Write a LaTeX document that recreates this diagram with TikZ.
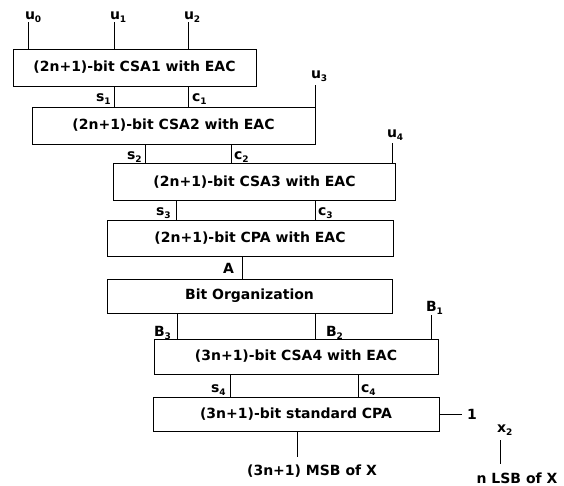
\documentclass[tikz,border=0pt]{standalone}
\usepackage{fontspec}
\setmainfont{DejaVu Sans}[BoldFont={DejaVu Sans Bold}]
\newcommand{\lowr}[1]{\raisebox{-3pt}{\fontsize{9}{9}\selectfont #1}}
\begin{document}
\begin{tikzpicture}[x=1pt,y=-1pt,line width=1pt,
  blk/.style={draw,inner sep=0pt,outer sep=0pt,font=\fontsize{14}{16}\selectfont\bfseries},
  lbl/.style={inner sep=0pt,outer sep=0pt,font=\fontsize{14}{16}\selectfont\bfseries}]
\useasboundingbox (0,0) rectangle (564,485);
% blocks
\node[blk,minimum width=243pt,minimum height=37pt] (csa1) at (134.5,67.5) {(2n+1)-bit CSA1 with EAC};
\node[blk,minimum width=283pt,minimum height=37pt] (csa2) at (173.5,125.5) {(2n+1)-bit CSA2 with EAC};
\node[blk,minimum width=282pt,minimum height=37pt] (csa3) at (254.5,182) {(2n+1)-bit CSA3 with EAC};
\node[blk,minimum width=286pt,minimum height=36pt] (cpa) at (250,238) {(2n+1)-bit CPA with EAC};
\node[blk,minimum width=285pt,minimum height=34pt] (bo) at (249.5,296) {Bit Organization};
\node[blk,minimum width=284pt,minimum height=35pt] (csa4) at (296,356.5) {(3n+1)-bit CSA4 with EAC};
\node[blk,minimum width=286pt,minimum height=34pt] (std) at (296,414) {(3n+1)-bit standard CPA};
% x positions / free ends
\coordinate (u0) at (28,22);
\coordinate (u1) at (114,22);
\coordinate (u2) at (188,22);
\coordinate (u3) at (315,85);
\coordinate (u4) at (392,143);
\coordinate (b1) at (431,315);
\coordinate (s1x) at (114,0);
\coordinate (c1x) at (188,0);
\coordinate (s2x) at (145,0);
\coordinate (c2x) at (231,0);
\coordinate (s3x) at (176,0);
\coordinate (c3x) at (315,0);
\coordinate (ax) at (242,0);
\coordinate (b3x) at (177,0);
\coordinate (b2x) at (315,0);
\coordinate (s4x) at (230,0);
\coordinate (c4x) at (358,0);
\coordinate (one) at (462,414);
\coordinate (msb) at (297,457);
\coordinate (x2t) at (500,440);
\coordinate (x2b) at (500,464);
% connectors
\draw (u0) -- (csa1.north -| u0);
\draw (u1) -- (csa1.north -| u1);
\draw (u2) -- (csa1.north -| u2);
\draw (csa1.south -| s1x) -- (csa2.north -| s1x);
\draw (csa1.south -| c1x) -- (csa2.north -| c1x);
\draw (u3) -- (csa2.north -| u3);
\draw (csa2.south -| s2x) -- (csa3.north -| s2x);
\draw (csa2.south -| c2x) -- (csa3.north -| c2x);
\draw (u4) -- (csa3.north -| u4);
\draw (csa3.south -| s3x) -- (cpa.north -| s3x);
\draw (csa3.south -| c3x) -- (cpa.north -| c3x);
\draw (cpa.south -| ax) -- (bo.north -| ax);
\draw (bo.south -| b3x) -- (csa4.north -| b3x);
\draw (bo.south -| b2x) -- (csa4.north -| b2x);
\draw (b1) -- (csa4.north -| b1);
\draw (csa4.south -| s4x) -- (std.north -| s4x);
\draw (csa4.south -| c4x) -- (std.north -| c4x);
\draw (std.east) -- (one);
\draw (std.south -| msb) -- (msb);
\draw (x2t) -- (x2b);
% labels
\node[lbl,anchor=base west] (lu0) at (25,19) {u\lowr{0}};
\node[lbl,anchor=base west] (lu1) at (110,19) {u\lowr{1}};
\node[lbl,anchor=base west] (lu2) at (184,19) {u\lowr{2}};
\node[lbl,anchor=base west] (lu3) at (311,78) {u\lowr{3}};
\node[lbl,anchor=base west] (lu4) at (387,137) {u\lowr{4}};
\node[lbl,anchor=base west] (ls1) at (96,101) {s\lowr{1}};
\node[lbl,anchor=base west] (lc1) at (192,101) {c\lowr{1}};
\node[lbl,anchor=base west] (ls2) at (127,159) {s\lowr{2}};
\node[lbl,anchor=base west] (lc2) at (234,159) {c\lowr{2}};
\node[lbl,anchor=base west] (ls3) at (156,215) {s\lowr{3}};
\node[lbl,anchor=base west] (lc3) at (318,215) {c\lowr{3}};
\node[lbl,anchor=base west] (la) at (223,273) {A};
\node[lbl,anchor=base west] (lb3) at (154,336) {B\lowr{3}};
\node[lbl,anchor=base west] (lb2) at (326,336) {B\lowr{2}};
\node[lbl,anchor=base west] (lb1) at (426,311) {B\lowr{1}};
\node[lbl,anchor=base west] (ls4) at (211,392) {s\lowr{4}};
\node[lbl,anchor=base west] (lc4) at (361,392) {c\lowr{4}};
\node[lbl,anchor=base west] (l1) at (467,419) {1};
\node[lbl,anchor=base west] (lx2) at (497,432) {x\lowr{2}};
\node[lbl,anchor=base] (lmsb) at (312,475) {(3n+1) MSB of X};
\node[lbl,anchor=base] (llsb) at (517,483) {n LSB of X};
\end{tikzpicture}
\end{document}
